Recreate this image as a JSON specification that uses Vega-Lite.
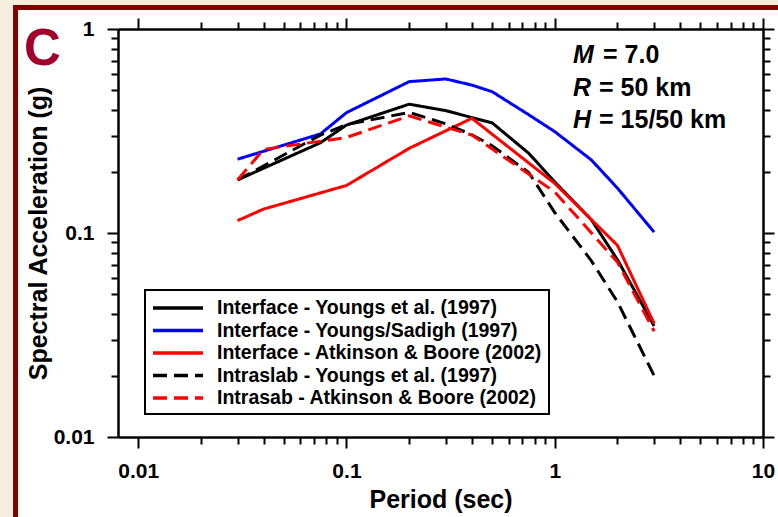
{
  "$schema": "https://vega.github.io/schema/vega-lite/v6.json",
  "width": 645,
  "height": 408,
  "autosize": {"type": "none"},
  "padding": {"left": 118, "top": 29, "right": 15, "bottom": 80},
  "background": "#F7EEDD",
  "config": {
    "view": {"stroke": null},
    "font": "Liberation Sans",
    "axis": {
      "domainColor": "black",
      "domainWidth": 2.5,
      "tickColor": "black",
      "tickWidth": 2,
      "grid": false,
      "labelFont": "Liberation Sans",
      "labelFontSize": 21,
      "labelFontWeight": "bold",
      "labelColor": "black",
      "titleFont": "Liberation Sans",
      "titleFontSize": 25,
      "titleFontWeight": "bold",
      "titleColor": "black",
      "labelOverlap": false,
      "labelFlush": false
    },
    "legend": {
      "orient": "none",
      "legendX": 27,
      "legendY": 261,
      "symbolType": "M-1,0H4",
      "symbolSize": 400,
      "symbolStrokeWidth": 3.5,
      "labelFont": "Liberation Sans",
      "labelFontSize": 19.5,
      "labelFontWeight": "bold",
      "labelColor": "black",
      "labelLimit": 0,
      "labelOffset": 42,
      "padding": 6,
      "rowPadding": 0.5,
      "strokeColor": "black",
      "strokeWidth": 2,
      "fillColor": "white",
      "zindex": 2
    }
  },
  "datasets": {
    "series": [
      {"series": "Interface - Youngs et al. (1997)", "period": 0.03, "sa": 0.182},
      {"series": "Interface - Youngs et al. (1997)", "period": 0.075, "sa": 0.277},
      {"series": "Interface - Youngs et al. (1997)", "period": 0.1, "sa": 0.338},
      {"series": "Interface - Youngs et al. (1997)", "period": 0.2, "sa": 0.428},
      {"series": "Interface - Youngs et al. (1997)", "period": 0.3, "sa": 0.398},
      {"series": "Interface - Youngs et al. (1997)", "period": 0.4, "sa": 0.368},
      {"series": "Interface - Youngs et al. (1997)", "period": 0.5, "sa": 0.347},
      {"series": "Interface - Youngs et al. (1997)", "period": 0.75, "sa": 0.246},
      {"series": "Interface - Youngs et al. (1997)", "period": 1.0, "sa": 0.178},
      {"series": "Interface - Youngs et al. (1997)", "period": 1.5, "sa": 0.116},
      {"series": "Interface - Youngs et al. (1997)", "period": 2.0, "sa": 0.074},
      {"series": "Interface - Youngs et al. (1997)", "period": 3.0, "sa": 0.035},
      {"series": "Interface - Youngs/Sadigh (1997)", "period": 0.03, "sa": 0.23},
      {"series": "Interface - Youngs/Sadigh (1997)", "period": 0.075, "sa": 0.306},
      {"series": "Interface - Youngs/Sadigh (1997)", "period": 0.1, "sa": 0.389},
      {"series": "Interface - Youngs/Sadigh (1997)", "period": 0.2, "sa": 0.552},
      {"series": "Interface - Youngs/Sadigh (1997)", "period": 0.3, "sa": 0.569},
      {"series": "Interface - Youngs/Sadigh (1997)", "period": 0.4, "sa": 0.531},
      {"series": "Interface - Youngs/Sadigh (1997)", "period": 0.5, "sa": 0.493},
      {"series": "Interface - Youngs/Sadigh (1997)", "period": 0.75, "sa": 0.38},
      {"series": "Interface - Youngs/Sadigh (1997)", "period": 1.0, "sa": 0.314},
      {"series": "Interface - Youngs/Sadigh (1997)", "period": 1.5, "sa": 0.228},
      {"series": "Interface - Youngs/Sadigh (1997)", "period": 2.0, "sa": 0.166},
      {"series": "Interface - Youngs/Sadigh (1997)", "period": 3.0, "sa": 0.101},
      {"series": "Interface - Atkinson & Boore (2002)", "period": 0.03, "sa": 0.115},
      {"series": "Interface - Atkinson & Boore (2002)", "period": 0.04, "sa": 0.131},
      {"series": "Interface - Atkinson & Boore (2002)", "period": 0.1, "sa": 0.171},
      {"series": "Interface - Atkinson & Boore (2002)", "period": 0.2, "sa": 0.26},
      {"series": "Interface - Atkinson & Boore (2002)", "period": 0.4, "sa": 0.365},
      {"series": "Interface - Atkinson & Boore (2002)", "period": 1.0, "sa": 0.175},
      {"series": "Interface - Atkinson & Boore (2002)", "period": 2.0, "sa": 0.087},
      {"series": "Interface - Atkinson & Boore (2002)", "period": 3.0, "sa": 0.036},
      {"series": "Intraslab - Youngs et al. (1997)", "period": 0.03, "sa": 0.182},
      {"series": "Intraslab - Youngs et al. (1997)", "period": 0.075, "sa": 0.302},
      {"series": "Intraslab - Youngs et al. (1997)", "period": 0.1, "sa": 0.34},
      {"series": "Intraslab - Youngs et al. (1997)", "period": 0.2, "sa": 0.39},
      {"series": "Intraslab - Youngs et al. (1997)", "period": 0.3, "sa": 0.343},
      {"series": "Intraslab - Youngs et al. (1997)", "period": 0.4, "sa": 0.303},
      {"series": "Intraslab - Youngs et al. (1997)", "period": 0.5, "sa": 0.268},
      {"series": "Intraslab - Youngs et al. (1997)", "period": 0.75, "sa": 0.198},
      {"series": "Intraslab - Youngs et al. (1997)", "period": 1.0, "sa": 0.126},
      {"series": "Intraslab - Youngs et al. (1997)", "period": 1.5, "sa": 0.073},
      {"series": "Intraslab - Youngs et al. (1997)", "period": 2.0, "sa": 0.046},
      {"series": "Intraslab - Youngs et al. (1997)", "period": 3.0, "sa": 0.02},
      {"series": "Intrasab - Atkinson & Boore (2002)", "period": 0.03, "sa": 0.182},
      {"series": "Intrasab - Atkinson & Boore (2002)", "period": 0.04, "sa": 0.257},
      {"series": "Intrasab - Atkinson & Boore (2002)", "period": 0.1, "sa": 0.294},
      {"series": "Intrasab - Atkinson & Boore (2002)", "period": 0.2, "sa": 0.375},
      {"series": "Intrasab - Atkinson & Boore (2002)", "period": 0.4, "sa": 0.302},
      {"series": "Intrasab - Atkinson & Boore (2002)", "period": 1.0, "sa": 0.159},
      {"series": "Intrasab - Atkinson & Boore (2002)", "period": 2.0, "sa": 0.072},
      {"series": "Intrasab - Atkinson & Boore (2002)", "period": 3.0, "sa": 0.033}
    ],
    "notes": [
      {"sym": "M", "rest": "= 7.0", "v": 0.681, "xr": 1.706},
      {"sym": "R", "rest": "= 50 km", "v": 0.469, "xr": 1.632},
      {"sym": "H", "rest": "= 15/50 km", "v": 0.327, "xr": 1.632}
    ],
    "panel": [{"letter": "C"}]
  },
  "layer": [
    {
      "data": {"name": "panel"},
      "mark": {"type": "rect", "fill": "white", "stroke": "#800000", "strokeWidth": 5},
      "encoding": {
        "x": {
          "datum": 0.002577,
          "type": "quantitative",
          "scale": {"type": "log", "domain": [0.008, 10], "nice": false},
          "axis": {
            "orient": "top",
            "title": null,
            "labels": false,
            "zindex": 1,
            "values": [0.01, 0.02, 0.03, 0.04, 0.05, 0.06, 0.07, 0.08, 0.09, 0.1, 0.2, 0.3, 0.4, 0.5, 0.6, 0.7, 0.8, 0.9, 1, 2, 3, 4, 5, 6, 7, 8, 9, 10],
            "tickSize": {"condition": {"test": "datum.value == 0.01 || datum.value == 0.1 || datum.value == 1 || datum.value == 10", "value": 11}, "value": 7}
          }
        },
        "x2": {"datum": 1000},
        "y": {
          "datum": 1.2747,
          "type": "quantitative",
          "scale": {"type": "log", "domain": [0.01, 1], "nice": false},
          "axis": {
            "orient": "right",
            "title": null,
            "labels": false,
            "zindex": 1,
            "values": [0.01, 0.02, 0.03, 0.04, 0.05, 0.06, 0.07, 0.08, 0.09, 0.1, 0.2, 0.3, 0.4, 0.5, 0.6, 0.7, 0.8, 0.9, 1],
            "tickSize": {"condition": {"test": "datum.value == 0.01 || datum.value == 0.1 || datum.value == 1", "value": 11}, "value": 7}
          }
        },
        "y2": {"datum": 0.00001}
      }
    },
    {
      "data": {"name": "panel"},
      "mark": {"type": "text", "font": "Liberation Sans", "fontSize": 51, "fontWeight": "bold", "align": "left", "baseline": "alphabetic", "color": "#A0002A"},
      "encoding": {
        "x": {"datum": 0.00283, "type": "quantitative", "axis": null},
        "y": {"datum": 0.666, "type": "quantitative", "axis": null},
        "text": {"field": "letter"}
      }
    },
    {
      "data": {"name": "series"},
      "mark": {"type": "line", "strokeWidth": 3},
      "encoding": {
        "x": {
          "field": "period",
          "type": "quantitative",
          "scale": {"type": "log", "domain": [0.008, 10], "nice": false},
          "axis": {
            "orient": "bottom",
            "title": "Period (sec)",
            "titlePadding": 6,
            "labelPadding": 12,
            "zindex": 1,
            "values": [0.01, 0.02, 0.03, 0.04, 0.05, 0.06, 0.07, 0.08, 0.09, 0.1, 0.2, 0.3, 0.4, 0.5, 0.6, 0.7, 0.8, 0.9, 1, 2, 3, 4, 5, 6, 7, 8, 9, 10],
            "labelExpr": "datum.value == 0.01 ? '0.01' : datum.value == 0.1 ? '0.1' : datum.value == 1 ? '1' : datum.value == 10 ? '10' : ''",
            "tickSize": {"condition": {"test": "datum.value == 0.01 || datum.value == 0.1 || datum.value == 1 || datum.value == 10", "value": 11}, "value": 7}
          }
        },
        "y": {
          "field": "sa",
          "type": "quantitative",
          "scale": {"type": "log", "domain": [0.01, 1], "nice": false},
          "axis": {
            "orient": "left",
            "title": "Spectral Acceleration (g)",
            "titlePadding": 2,
            "labelPadding": 13,
            "zindex": 1,
            "values": [0.01, 0.02, 0.03, 0.04, 0.05, 0.06, 0.07, 0.08, 0.09, 0.1, 0.2, 0.3, 0.4, 0.5, 0.6, 0.7, 0.8, 0.9, 1],
            "labelExpr": "datum.value == 0.01 ? '0.01' : datum.value == 0.1 ? '0.1' : datum.value == 1 ? '1' : ''",
            "tickSize": {"condition": {"test": "datum.value == 0.01 || datum.value == 0.1 || datum.value == 1", "value": 11}, "value": 7}
          }
        },
        "color": {
          "field": "series",
          "type": "nominal",
          "scale": {
            "domain": ["Interface - Youngs et al. (1997)", "Interface - Youngs/Sadigh (1997)", "Interface - Atkinson & Boore (2002)", "Intraslab - Youngs et al. (1997)", "Intrasab - Atkinson & Boore (2002)"],
            "range": ["#000000", "#0000FF", "#FF0000", "#000000", "#FF0000"]
          },
          "legend": {"title": null}
        },
        "strokeDash": {
          "field": "series",
          "type": "nominal",
          "scale": {
            "domain": ["Interface - Youngs et al. (1997)", "Interface - Youngs/Sadigh (1997)", "Interface - Atkinson & Boore (2002)", "Intraslab - Youngs et al. (1997)", "Intrasab - Atkinson & Boore (2002)"],
            "range": [[1, 0], [1, 0], [1, 0], [14, 7], [14, 7]]
          },
          "legend": {"title": null}
        },
        "order": {"field": "period", "type": "quantitative"}
      }
    },
    {
      "data": {"name": "notes"},
      "mark": {"type": "text", "font": "Liberation Sans", "fontSize": 25, "fontWeight": "bold", "fontStyle": "italic", "align": "left", "baseline": "alphabetic", "color": "black"},
      "encoding": {
        "x": {"datum": 1.2236, "type": "quantitative", "axis": null},
        "y": {"field": "v", "type": "quantitative", "axis": null},
        "text": {"field": "sym"}
      }
    },
    {
      "data": {"name": "notes"},
      "mark": {"type": "text", "font": "Liberation Sans", "fontSize": 25, "fontWeight": "bold", "align": "left", "baseline": "alphabetic", "color": "black"},
      "encoding": {
        "x": {"field": "xr", "type": "quantitative", "axis": null},
        "y": {"field": "v", "type": "quantitative", "axis": null},
        "text": {"field": "rest"}
      }
    }
  ],
  "resolve": {"axis": {"x": "independent", "y": "independent"}}
}
